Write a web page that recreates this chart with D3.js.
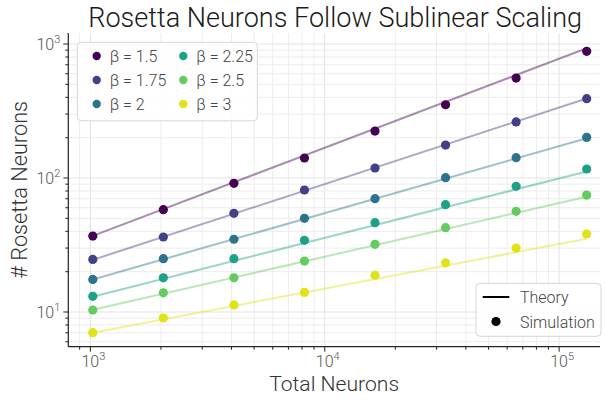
<!DOCTYPE html>
<html>
<head>
<meta charset="utf-8">
<script src="https://cdn.jsdelivr.net/npm/d3@7"></script>
<style>
  body { margin: 0; background: #fff; }
  svg { display: block; font-family: "Helvetica Neue", Roboto, "Liberation Sans", sans-serif; font-weight: 300; }
</style>
</head>
<body>
<div id="chart"></div>
<script>
// total neurons (x), one value per simulation run
var totalNeurons = [1024, 2048, 4096, 8192, 16384, 32768, 65536, 131072];
var betaLabels = ["1.5", "1.75", "2", "2.25", "2.5", "3"];

// simulated rosetta neuron counts
var simBeta150 = [36.9, 58.0, 91.3, 141, 224, 352, 557, 882];
var simBeta175 = [24.7, 36.3, 54.5, 81.4, 118.8, 176, 262, 391];
var simBeta200 = [17.5, 25.0, 34.9, 50.0, 70.1, 100.5, 141.8, 201];
var simBeta225 = [13.1, 18.0, 25.0, 34.3, 46.4, 63.2, 86.7, 116.7];
var simBeta250 = [10.35, 13.9, 18.0, 24.0, 32.0, 42.6, 56.4, 74.6];
var simBeta300 = [7.01, 9.02, 11.3, 14.0, 18.8, 23.3, 30.0, 38.2];
var simValues = [simBeta150, simBeta175, simBeta200, simBeta225, simBeta250, simBeta300];

// theory lines: value at first and last x
var theoryStart = [37, 24.5, 17.5, 13, 10.4, 7];
var theoryEnd = [930, 392, 198, 112, 72.4, 35.2];

// viridis positions used for each beta
var colorPos = [0, 0.19, 0.38, 0.57, 0.76, 0.95];

var width = 605,
    height = 400,
    margin = { top: 33, right: 5, bottom: 53.3, left: 68.3 },
    plotW = width - margin.left - margin.right,
    plotH = height - margin.top - margin.bottom;

var svg = d3.select("#chart").append("svg")
    .attr("width", width)
    .attr("height", height);

var x = d3.scaleLog().domain([805, 149400]).range([0, plotW]);
var y = d3.scaleLog().domain([5.51, 1208]).range([plotH, 0]);

var g = svg.append("g")
    .attr("transform", "translate(" + margin.left + "," + margin.top + ")");

function isMajor(v) {
    var l = Math.log10(v);
    return Math.abs(l - Math.round(l)) < 1e-6;
}

var xTicks = x.ticks().filter(function (v) { return v >= 805 && v <= 149400; });
var yTicks = y.ticks().filter(function (v) { return v >= 5.51 && v <= 1208; });

// grid
g.append("g").selectAll("line.xg")
    .data(xTicks)
    .enter().append("line")
    .attr("x1", function (d) { return x(d); })
    .attr("x2", function (d) { return x(d); })
    .attr("y1", 0).attr("y2", plotH)
    .attr("stroke", function (d) { return isMajor(d) ? "#e2e2e2" : "#ececec"; })
    .attr("stroke-width", 1);

g.append("g").selectAll("line.yg")
    .data(yTicks)
    .enter().append("line")
    .attr("y1", function (d) { return y(d); })
    .attr("y2", function (d) { return y(d); })
    .attr("x1", 0).attr("x2", plotW)
    .attr("stroke", function (d) { return isMajor(d) ? "#e2e2e2" : "#ececec"; })
    .attr("stroke-width", 1);

// theory lines
betaLabels.forEach(function (b, i) {
    var pts = [[totalNeurons[0], theoryStart[i]], [totalNeurons[totalNeurons.length - 1], theoryEnd[i]]];
    g.append("path")
        .datum(pts)
        .attr("fill", "none")
        .attr("stroke", d3.interpolateViridis(colorPos[i]))
        .attr("stroke-opacity", 0.45)
        .attr("stroke-width", 2)
        .attr("d", d3.line().x(function (d) { return x(d[0]); }).y(function (d) { return y(d[1]); }));
});

// simulation points
betaLabels.forEach(function (b, i) {
    g.append("g").selectAll("circle")
        .data(simValues[i])
        .enter().append("circle")
        .attr("cx", function (d, j) { return x(totalNeurons[j]); })
        .attr("cy", function (d) { return y(d); })
        .attr("r", 4.6)
        .attr("fill", d3.interpolateViridis(colorPos[i]));
});

// axes
var xAxisG = g.append("g").attr("transform", "translate(0," + plotH + ")");
xAxisG.append("line").attr("x1", 0).attr("x2", plotW).attr("stroke", "#222").attr("stroke-width", 1.2);
xAxisG.selectAll("line.t").data(xTicks).enter().append("line")
    .attr("x1", function (d) { return x(d); })
    .attr("x2", function (d) { return x(d); })
    .attr("y1", 0)
    .attr("y2", function (d) { return isMajor(d) ? 5 : 3; })
    .attr("stroke", "#222").attr("stroke-width", 1);

var yAxisG = g.append("g");
yAxisG.append("line").attr("y1", 0).attr("y2", plotH).attr("stroke", "#222").attr("stroke-width", 1.2);
yAxisG.selectAll("line.t").data(yTicks).enter().append("line")
    .attr("y1", function (d) { return y(d); })
    .attr("y2", function (d) { return y(d); })
    .attr("x1", 0)
    .attr("x2", function (d) { return isMajor(d) ? -5 : -3; })
    .attr("stroke", "#222").attr("stroke-width", 1);

function powLabel(sel, d) {
    var t = sel.append("text").attr("fill", "#555").attr("font-size", 16);
    t.append("tspan").text("10");
    t.append("tspan").attr("font-size", 11).attr("dy", -7).text(Math.round(Math.log10(d)));
    return t;
}

xTicks.filter(isMajor).forEach(function (d) {
    powLabel(xAxisG, d)
        .attr("x", x(d) + 3)
        .attr("y", 20)
        .attr("text-anchor", "middle");
});
yTicks.filter(isMajor).forEach(function (d) {
    powLabel(yAxisG, d)
        .attr("x", -8)
        .attr("y", y(d) + 6)
        .attr("text-anchor", "end");
});

// titles
function fitText(t, w) {
    var len = t.node().getComputedTextLength();
    var fs = parseFloat(t.attr("font-size"));
    t.attr("font-size", fs * w / len);
}

var title = svg.append("text")
    .attr("x", margin.left + plotW / 2 + 1)
    .attr("y", 27)
    .attr("text-anchor", "middle")
    .attr("font-size", 24)
    .attr("fill", "#1a1a1a")
    .text("Rosetta Neurons Follow Sublinear Scaling");
fitText(title, 494);

var xLab = svg.append("text")
    .attr("x", margin.left + plotW / 2)
    .attr("y", 391)
    .attr("text-anchor", "middle")
    .attr("font-size", 20)
    .attr("fill", "#333")
    .text("Total Neurons");
fitText(xLab, 130);

var yLab = svg.append("text")
    .attr("transform", "translate(27," + (margin.top + plotH / 2) + ") rotate(-90)")
    .attr("text-anchor", "middle")
    .attr("font-size", 20)
    .attr("fill", "#333")
    .text("# Rosetta Neurons");
fitText(yLab, 178);

// beta legend
var leg1 = svg.append("g");
leg1.append("rect")
    .attr("x", 77.3).attr("y", 42.3)
    .attr("width", 180).attr("height", 78.5)
    .attr("rx", 4)
    .attr("fill", "#fff").attr("fill-opacity", 0.85)
    .attr("stroke", "#d6d6d6");
betaLabels.forEach(function (b, i) {
    var col = Math.floor(i / 3), row = i % 3;
    var cx = 96.7 + col * 86.6, cy = 56 + row * 24;
    leg1.append("circle").attr("cx", cx).attr("cy", cy).attr("r", 4.2)
        .attr("fill", d3.interpolateViridis(colorPos[i]));
    leg1.append("text").attr("x", cx + 13).attr("y", cy + 6)
        .attr("font-size", 16).attr("fill", "#444")
        .text("\u03b2 = " + b);
});

// theory / simulation legend
var leg2 = svg.append("g");
leg2.append("rect")
    .attr("x", 476).attr("y", 283.3)
    .attr("width", 125).attr("height", 53)
    .attr("rx", 4)
    .attr("fill", "#fff").attr("fill-opacity", 0.85)
    .attr("stroke", "#d6d6d6");
leg2.append("line").attr("x1", 482.7).attr("x2", 509.3).attr("y1", 297).attr("y2", 297)
    .attr("stroke", "#000").attr("stroke-width", 2);
leg2.append("circle").attr("cx", 496).attr("cy", 321.5).attr("r", 4.6).attr("fill", "#000");
leg2.append("text").attr("x", 520).attr("y", 303).attr("font-size", 16).attr("fill", "#444").text("Theory");
leg2.append("text").attr("x", 520).attr("y", 327.5).attr("font-size", 16).attr("fill", "#444").text("Simulation");
</script>
</body>
</html>
